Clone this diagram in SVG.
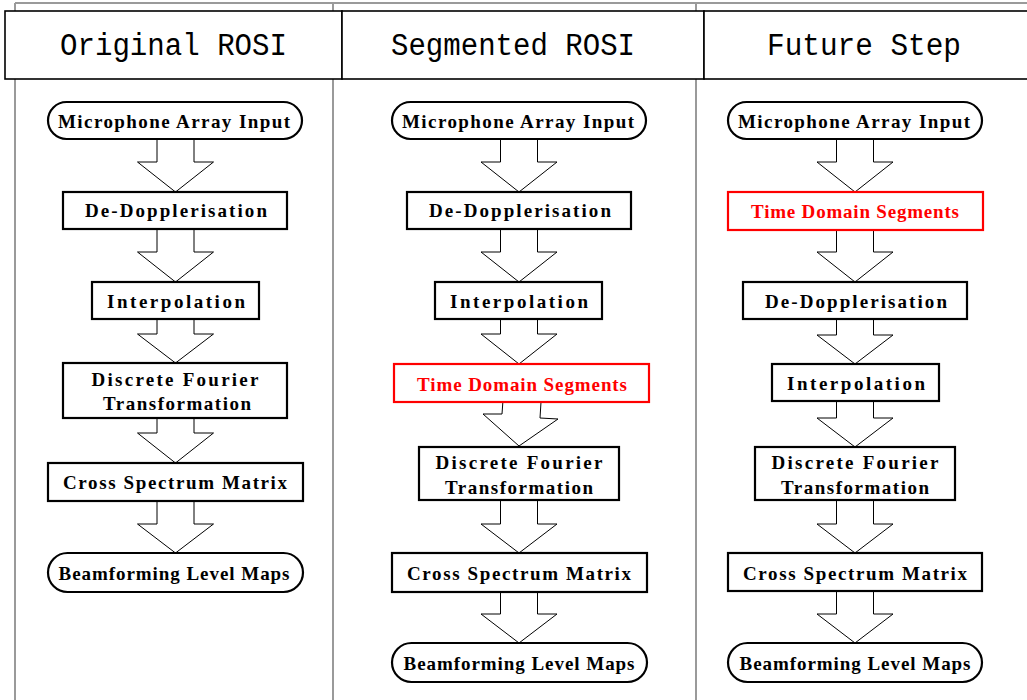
<svg xmlns="http://www.w3.org/2000/svg" width="1027" height="700" viewBox="0 0 1027 700">
  <style>
    .grid { stroke: #9a9a9a; stroke-width: 2; fill: none; }
    .head { fill: #fff; stroke: #000; stroke-width: 1.6; }
    .htxt { font-family: "Liberation Mono", "DejaVu Sans Mono", monospace; font-size: 31px; fill: #000; text-anchor: middle; }
    .box { fill: #fff; stroke: #000; stroke-width: 2.2; }
    .red { fill: #fff; stroke: #ff0000; stroke-width: 2.2; }
    .t { font-family: "Liberation Serif", "Times New Roman", serif; font-weight: bold; font-size: 19px; fill: #000; text-anchor: middle; }
    .tr { font-family: "Liberation Serif", "Times New Roman", serif; font-weight: bold; font-size: 19px; fill: #ff0000; text-anchor: middle; }
    .arr { fill: #fff; stroke: #000; stroke-width: 1; stroke-linejoin: miter; }
  </style>

  <!-- table grid -->
  <g id="grid">
    <line class="grid" x1="15" y1="3" x2="1027" y2="3"/>
    <line class="grid" x1="15" y1="3" x2="15" y2="700"/>
    <line class="grid" x1="333" y1="3" x2="333" y2="700"/>
    <line class="grid" x1="696" y1="3" x2="696" y2="700"/>
  </g>

  <!-- column headers -->
  <g id="header-original">
    <rect class="head" x="5" y="11" width="337" height="68"/>
    <text class="htxt" x="173.5" y="55" textLength="227" lengthAdjust="spacingAndGlyphs">Original ROSI</text>
  </g>
  <g id="header-segmented">
    <rect class="head" x="342" y="11" width="362" height="68"/>
    <text class="htxt" x="513" y="55" textLength="244" lengthAdjust="spacingAndGlyphs">Segmented ROSI</text>
  </g>
  <g id="header-future">
    <rect class="head" x="704" y="11" width="330" height="68"/>
    <text class="htxt" x="864" y="55" textLength="194" lengthAdjust="spacingAndGlyphs">Future Step</text>
  </g>

  <!-- block arrows -->
  <g id="connectors">
    <!-- column 1, cx = 175.5 -->
    <polygon class="arr" points="157,139 194,139 194,162 213.5,162 175.5,192 137.5,162 157,162"/>
    <polygon class="arr" points="157,229 194,229 194,252 213.5,252 175.5,282 137.5,252 157,252"/>
    <polygon class="arr" points="157,319 194,319 194,334 213.5,334 175.5,363 137.5,334 157,334"/>
    <polygon class="arr" points="157,418 194,418 194,433 213.5,433 175.5,463 137.5,433 157,433"/>
    <polygon class="arr" points="157,501 194,501 194,524 213.5,524 175.5,553 137.5,524 157,524"/>
    <!-- column 2, cx = 519 -->
    <polygon class="arr" points="500.5,139 537.5,139 537.5,162 557,162 519,192 481,162 500.5,162"/>
    <polygon class="arr" points="500.5,229 537.5,229 537.5,252 557,252 519,282 481,252 500.5,252"/>
    <polygon class="arr" points="500.5,319 537.5,319 537.5,334 557,334 519,364 481,334 500.5,334"/>
    <polygon class="arr" points="503,400 541,402 540,418 558,419 519,446 483,414 502,414"/>
    <polygon class="arr" points="500.5,500 537.5,500 537.5,524 557,524 519,553 481,524 500.5,524"/>
    <polygon class="arr" points="500.5,592 537.5,592 537.5,614 557,614 519,643 481,614 500.5,614"/>
    <!-- column 3, cx = 855 -->
    <polygon class="arr" points="836.5,139 873.5,139 873.5,162 893,162 855,192 817,162 836.5,162"/>
    <polygon class="arr" points="836.5,230 873.5,230 873.5,252 893,252 855,282 817,252 836.5,252"/>
    <polygon class="arr" points="836.5,319 873.5,319 873.5,335 893,335 855,364 817,335 836.5,335"/>
    <polygon class="arr" points="836.5,401 873.5,401 873.5,418 893,418 855,447 817,418 836.5,418"/>
    <polygon class="arr" points="836.5,500 873.5,500 873.5,524 893,524 855,553 817,524 836.5,524"/>
    <polygon class="arr" points="836.5,591 873.5,591 873.5,614 893,614 855,643 817,614 836.5,614"/>
  </g>

  <!-- column 1: original ROSI -->
  <g id="c1-input">
    <rect class="box" x="48" y="102" width="254" height="37" rx="18.5"/>
    <text class="t" x="174" y="128" textLength="232" lengthAdjust="spacing">Microphone Array Input</text>
  </g>
  <g id="c1-dedoppler">
    <rect class="box" x="63" y="192" width="224" height="37"/>
    <text class="t" x="176" y="217" textLength="182" lengthAdjust="spacing">De-Dopplerisation</text>
  </g>
  <g id="c1-interp">
    <rect class="box" x="92" y="282" width="167" height="37"/>
    <text class="t" x="176" y="308" textLength="138" lengthAdjust="spacing">Interpolation</text>
  </g>
  <g id="c1-dft">
    <rect class="box" x="63" y="363" width="224" height="55"/>
    <text class="t" x="175" y="386" textLength="167" lengthAdjust="spacing">Discrete Fourier</text>
    <text class="t" x="177" y="410" textLength="148" lengthAdjust="spacing">Transformation</text>
  </g>
  <g id="c1-csm">
    <rect class="box" x="48" y="463" width="255" height="38"/>
    <text class="t" x="175" y="489" textLength="224" lengthAdjust="spacing">Cross Spectrum Matrix</text>
  </g>
  <g id="c1-maps">
    <rect class="box" x="48" y="553" width="255" height="39" rx="19.5"/>
    <text class="t" x="174" y="580" textLength="231" lengthAdjust="spacing">Beamforming Level Maps</text>
  </g>

  <!-- column 2: segmented ROSI -->
  <g id="c2-input">
    <rect class="box" x="392" y="102" width="254" height="37" rx="18.5"/>
    <text class="t" x="518" y="128" textLength="232" lengthAdjust="spacing">Microphone Array Input</text>
  </g>
  <g id="c2-dedoppler">
    <rect class="box" x="407" y="192" width="224" height="37"/>
    <text class="t" x="520" y="217" textLength="182" lengthAdjust="spacing">De-Dopplerisation</text>
  </g>
  <g id="c2-interp">
    <rect class="box" x="435" y="282" width="167" height="37"/>
    <text class="t" x="519" y="308" textLength="138" lengthAdjust="spacing">Interpolation</text>
  </g>
  <g id="c2-segments">
    <rect class="red" x="394" y="364" width="255" height="38"/>
    <text class="tr" x="522" y="391" textLength="210" lengthAdjust="spacing">Time Domain Segments</text>
  </g>
  <g id="c2-dft">
    <rect class="box" x="419" y="447" width="200" height="53"/>
    <text class="t" x="519" y="469" textLength="167" lengthAdjust="spacing">Discrete Fourier</text>
    <text class="t" x="519" y="494" textLength="148" lengthAdjust="spacing">Transformation</text>
  </g>
  <g id="c2-csm">
    <rect class="box" x="392" y="553" width="255" height="39"/>
    <text class="t" x="519" y="580" textLength="224" lengthAdjust="spacing">Cross Spectrum Matrix</text>
  </g>
  <g id="c2-maps">
    <rect class="box" x="392" y="643" width="255" height="39" rx="19.5"/>
    <text class="t" x="519" y="670" textLength="231" lengthAdjust="spacing">Beamforming Level Maps</text>
  </g>

  <!-- column 3: future step -->
  <g id="c3-input">
    <rect class="box" x="728" y="102" width="254" height="37" rx="18.5"/>
    <text class="t" x="854" y="128" textLength="232" lengthAdjust="spacing">Microphone Array Input</text>
  </g>
  <g id="c3-segments">
    <rect class="red" x="728" y="192" width="255" height="38"/>
    <text class="tr" x="855" y="218" textLength="208" lengthAdjust="spacing">Time Domain Segments</text>
  </g>
  <g id="c3-dedoppler">
    <rect class="box" x="743" y="282" width="224" height="37"/>
    <text class="t" x="856" y="308" textLength="182" lengthAdjust="spacing">De-Dopplerisation</text>
  </g>
  <g id="c3-interp">
    <rect class="box" x="772" y="364" width="167" height="37"/>
    <text class="t" x="856" y="390" textLength="138" lengthAdjust="spacing">Interpolation</text>
  </g>
  <g id="c3-dft">
    <rect class="box" x="755" y="447" width="200" height="53"/>
    <text class="t" x="855" y="469" textLength="167" lengthAdjust="spacing">Discrete Fourier</text>
    <text class="t" x="855" y="494" textLength="148" lengthAdjust="spacing">Transformation</text>
  </g>
  <g id="c3-csm">
    <rect class="box" x="728" y="553" width="254" height="38"/>
    <text class="t" x="855" y="580" textLength="224" lengthAdjust="spacing">Cross Spectrum Matrix</text>
  </g>
  <g id="c3-maps">
    <rect class="box" x="728" y="643" width="254" height="39" rx="19.5"/>
    <text class="t" x="855" y="670" textLength="231" lengthAdjust="spacing">Beamforming Level Maps</text>
  </g>
</svg>
